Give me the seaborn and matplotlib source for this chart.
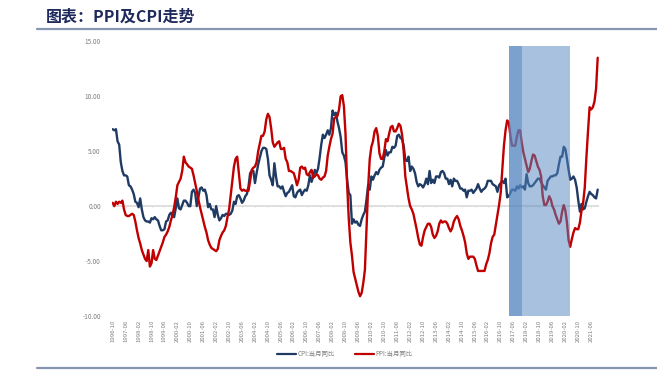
import numpy as np
import pandas as pd
import matplotlib
matplotlib.use("Agg")
import matplotlib.pyplot as plt
from matplotlib.lines import Line2D
import seaborn as sns

# ---------------- data (monthly, 1996-10 .. 2021-10) ----------------
start_month = "1996-10"
cpi_1996 = [7.0, 6.9, 7.0]
cpi_1997 = [5.9, 5.6, 4.0, 3.2, 2.8, 2.8, 2.7, 1.9, 1.8, 1.5, 1.1, 0.4]
cpi_1998 = [0.3, -0.1, 0.7, -0.3, -1.0, -1.3, -1.4, -1.4, -1.5, -1.1, -1.2, -1.0]
cpi_1999 = [-1.2, -1.3, -1.8, -2.2, -2.2, -2.1, -1.4, -1.3, -0.8, -0.6, -0.9, -1.0]
cpi_2000 = [-0.2, 0.7, -0.2, -0.3, 0.1, 0.5, 0.5, 0.3, 0.0, 0.0, 1.3, 1.5]
cpi_2001 = [1.2, 0.0, 0.8, 1.6, 1.7, 1.4, 1.5, 1.0, -0.1, 0.2, -0.3, -0.3]
cpi_2002 = [-1.0, 0.0, -0.8, -1.3, -1.1, -0.8, -0.9, -0.7, -0.7, -0.8, -0.7, -0.4]
cpi_2003 = [0.4, 0.2, 0.9, 1.0, 0.7, 0.3, 0.5, 0.9, 1.1, 1.8, 3.0, 3.2]
cpi_2004 = [3.2, 2.1, 3.0, 3.8, 4.4, 5.0, 5.3, 5.3, 5.2, 4.3, 2.8, 2.4]
cpi_2005 = [1.9, 3.9, 2.7, 1.8, 1.8, 1.6, 1.8, 1.3, 0.9, 1.2, 1.3, 1.6]
cpi_2006 = [1.9, 0.9, 0.8, 1.2, 1.4, 1.5, 1.0, 1.3, 1.5, 1.4, 1.9, 2.8]
cpi_2007 = [2.2, 2.7, 3.3, 3.0, 3.4, 4.4, 5.6, 6.5, 6.2, 6.5, 6.9, 6.5]
cpi_2008 = [7.1, 8.7, 8.3, 8.5, 7.7, 7.1, 6.3, 4.9, 4.6, 4.0, 2.4, 1.2]
cpi_2009 = [1.0, -1.6, -1.2, -1.5, -1.4, -1.7, -1.8, -1.2, -0.8, -0.5, 0.6, 1.9]
cpi_2010 = [1.5, 2.7, 2.4, 2.8, 3.1, 2.9, 3.3, 3.5, 3.6, 4.4, 5.1, 4.6]
cpi_2011 = [4.9, 4.9, 5.4, 5.3, 5.5, 6.4, 6.5, 6.2, 6.1, 5.5, 4.2, 4.1]
cpi_2012 = [4.5, 3.2, 3.6, 3.4, 3.0, 2.2, 1.8, 2.0, 1.9, 1.7, 2.0, 2.5]
cpi_2013 = [2.0, 3.2, 2.1, 2.4, 2.1, 2.7, 2.7, 2.6, 3.1, 3.2, 3.0, 2.5]
cpi_2014 = [2.5, 2.0, 2.4, 1.8, 2.5, 2.3, 2.3, 2.0, 1.6, 1.6, 1.4, 1.5]
cpi_2015 = [0.8, 1.4, 1.4, 1.5, 1.2, 1.4, 1.6, 2.0, 1.6, 1.3, 1.5, 1.6]
cpi_2016 = [1.8, 2.3, 2.3, 2.3, 2.0, 1.9, 1.8, 1.3, 1.9, 2.1, 2.3, 2.1]
cpi_2017 = [2.5, 0.8, 0.9, 1.2, 1.5, 1.5, 1.4, 1.8, 1.6, 1.9, 1.7, 1.8]
cpi_2018 = [1.5, 2.9, 2.1, 1.8, 1.8, 1.9, 2.1, 2.3, 2.5, 2.5, 2.2, 1.9]
cpi_2019 = [1.7, 1.5, 2.3, 2.5, 2.7, 2.7, 2.8, 2.8, 3.0, 3.8, 4.5, 4.5]
cpi_2020 = [5.4, 5.2, 4.3, 3.3, 2.4, 2.5, 2.7, 2.4, 1.7, 0.5, -0.5, 0.2]
cpi_2021 = [-0.3, -0.2, 0.4, 0.9, 1.3, 1.1, 1.0, 0.8, 0.7, 1.5]

ppi_1996 = [0.3, 0.0, 0.4]
ppi_1997 = [0.2, 0.4, 0.3, 0.5, -0.3, -0.8, -0.9, -0.9, -0.8, -0.7, -0.8, -1.4]
ppi_1998 = [-2.2, -2.9, -3.4, -4.0, -4.4, -4.8, -5.0, -4.0, -5.5, -5.2, -4.0, -4.8]
ppi_1999 = [-4.9, -4.5, -4.1, -3.7, -3.3, -2.8, -2.6, -2.3, -1.9, -1.3, -0.8, -0.1]
ppi_2000 = [0.8, 1.9, 2.2, 2.5, 3.2, 4.5, 4.0, 3.8, 3.6, 3.5, 3.4, 2.8]
ppi_2001 = [2.1, 1.4, 0.6, -0.1, -0.7, -1.3, -1.9, -2.4, -3.1, -3.5, -3.8, -3.9]
ppi_2002 = [-4.0, -4.1, -3.9, -3.1, -2.7, -2.4, -2.2, -1.8, -1.0, -0.3, 1.0, 2.3]
ppi_2003 = [3.6, 4.3, 4.5, 3.0, 1.6, 1.4, 1.5, 1.4, 1.4, 1.4, 2.3, 3.3]
ppi_2004 = [3.5, 3.6, 4.0, 5.0, 5.7, 6.4, 6.4, 6.8, 7.9, 8.4, 8.1, 7.1]
ppi_2005 = [5.8, 5.4, 5.6, 5.8, 5.9, 5.2, 5.2, 5.3, 4.3, 4.0, 3.2, 3.2]
ppi_2006 = [3.1, 3.0, 2.5, 1.9, 2.4, 3.5, 3.6, 3.4, 3.5, 2.9, 2.8, 3.1]
ppi_2007 = [3.3, 2.6, 2.7, 2.9, 2.8, 2.5, 2.4, 2.6, 2.7, 3.2, 4.6, 5.4]
ppi_2008 = [6.1, 6.6, 8.0, 8.1, 8.2, 8.8, 10.0, 10.1, 9.1, 6.6, 2.0, -1.1]
ppi_2009 = [-3.3, -4.5, -6.0, -6.6, -7.2, -7.8, -8.2, -7.9, -7.0, -5.8, -2.1, 1.7]
ppi_2010 = [4.3, 5.4, 5.9, 6.8, 7.1, 6.4, 4.8, 4.3, 4.3, 5.0, 6.1, 5.9]
ppi_2011 = [6.6, 7.2, 7.3, 6.8, 6.8, 7.1, 7.5, 7.3, 6.5, 5.0, 2.7, 1.7]
ppi_2012 = [0.7, 0.0, -0.3, -0.7, -1.4, -2.1, -2.9, -3.5, -3.6, -2.8, -2.2, -1.9]
ppi_2013 = [-1.6, -1.6, -1.9, -2.6, -2.9, -2.7, -2.3, -1.6, -1.3, -1.5, -1.4, -1.4]
ppi_2014 = [-1.6, -2.0, -2.3, -2.0, -1.4, -1.1, -0.9, -1.2, -1.8, -2.2, -2.7, -3.3]
ppi_2015 = [-4.3, -4.8, -4.6, -4.6, -4.6, -4.8, -5.4, -5.9, -5.9, -5.9, -5.9, -5.9]
ppi_2016 = [-5.3, -4.9, -4.3, -3.4, -2.8, -2.6, -1.7, -0.8, 0.1, 1.2, 3.3, 5.5]
ppi_2017 = [6.9, 7.8, 7.6, 6.4, 5.5, 5.5, 5.5, 6.3, 6.9, 6.9, 5.8, 4.9]
ppi_2018 = [4.3, 3.7, 3.1, 3.4, 4.1, 4.7, 4.6, 4.1, 3.6, 3.3, 2.7, 0.9]
ppi_2019 = [0.1, 0.1, 0.4, 0.9, 0.6, 0.0, -0.3, -0.8, -1.2, -1.6, -1.4, -0.5]
ppi_2020 = [0.1, -0.4, -1.5, -3.1, -3.7, -3.0, -2.4, -2.0, -2.1, -2.1, -1.5, -0.4]
ppi_2021 = [0.3, 1.7, 4.4, 6.8, 9.0, 8.8, 9.0, 9.5, 10.7, 13.5]

# shaded periods (two overlapping translucent bands)
band_starts = ["2017-03", "2017-03"]
band_ends = ["2017-11", "2020-05"]

series_names = ["CPI:当月同比", "PPI:当月同比"]
series_colors = ["#1F3B63", "#C00000"]
title_text = "图表：PPI及CPI走势"
y_ticks = [-10, -5, 0, 5, 10, 15]

# ---------------- assemble ----------------
cpi = sum([cpi_1996, cpi_1997, cpi_1998, cpi_1999, cpi_2000, cpi_2001, cpi_2002,
           cpi_2003, cpi_2004, cpi_2005, cpi_2006, cpi_2007, cpi_2008, cpi_2009,
           cpi_2010, cpi_2011, cpi_2012, cpi_2013, cpi_2014, cpi_2015, cpi_2016,
           cpi_2017, cpi_2018, cpi_2019, cpi_2020, cpi_2021], [])
ppi = sum([ppi_1996, ppi_1997, ppi_1998, ppi_1999, ppi_2000, ppi_2001, ppi_2002,
           ppi_2003, ppi_2004, ppi_2005, ppi_2006, ppi_2007, ppi_2008, ppi_2009,
           ppi_2010, ppi_2011, ppi_2012, ppi_2013, ppi_2014, ppi_2015, ppi_2016,
           ppi_2017, ppi_2018, ppi_2019, ppi_2020, ppi_2021], [])
months = pd.period_range(start=start_month, periods=len(cpi), freq="M")
labels = [m.strftime("%Y-%m") for m in months]
idx = np.arange(len(cpi))

df = pd.DataFrame({
    "i": np.concatenate([idx, idx]),
    "value": cpi + ppi,
    "series": [series_names[0]] * len(cpi) + [series_names[1]] * len(ppi),
})

sns.set_style("white")
plt.rcParams["font.family"] = ["Noto Sans CJK SC", "DejaVu Sans"]
plt.rcParams["axes.unicode_minus"] = False

W, H = 657, 371
fig = plt.figure(figsize=(W / 100, H / 100), dpi=100)
ax_left, ax_right, ax_top, ax_bot = 111.9, 598.5, 41.3, 316.0
ax = fig.add_axes([ax_left / W, 1 - ax_bot / H, (ax_right - ax_left) / W, (ax_bot - ax_top) / H])

ax.axhline(0, color="#D9D9D9", lw=1.2, zorder=1)
sns.lineplot(data=df, x="i", y="value", hue="series", hue_order=series_names,
             palette=dict(zip(series_names, series_colors)), linewidth=1.7,
             legend=False, ax=ax, zorder=3)
for ln in ax.get_lines():
    ln.set_solid_joinstyle("round")
    ln.set_solid_capstyle("round")

# bands
band_top = (14.6 + 10) / 25
for s, e in zip(band_starts, band_ends):
    ax.axvspan(labels.index(s), labels.index(e), ymin=0, ymax=band_top,
               color="#5185C1", alpha=0.5, lw=0, zorder=4)

ax.set_xlim(-0.5, len(cpi) - 0.5)
ax.set_ylim(-10, 15)
ax.set_yticks(y_ticks)
ax.set_yticklabels([f"{v:.2f}" for v in y_ticks])
tick_pos = list(range(0, len(cpi), 8))
ax.set_xticks(tick_pos)
ax.set_xticklabels([labels[p] for p in tick_pos], rotation=90)
ax.tick_params(axis="both", length=0, labelsize=4.6, labelcolor="#7F7F7F")
ax.tick_params(axis="x", pad=3, labelsize=4.3)
ax.tick_params(axis="y", pad=8)
ax.set_xlabel("")
ax.set_ylabel("")
for sp in ax.spines.values():
    sp.set_visible(False)

# tick marks along the zero line
sec = ax.secondary_xaxis(10 / 25)
sec.set_xticks(tick_pos)
sec.set_xticklabels([])
sec.tick_params(length=1.5, width=0.5, color="#E3E3E3", direction="out")
sec.spines["bottom"].set_visible(False)

# legend
handles = [Line2D([0], [0], color=c, lw=1.6) for c in series_colors]
leg = fig.legend(handles, series_names, loc="center", ncol=2,
                 bbox_to_anchor=(345 / W, 1 - 354 / H), frameon=False,
                 fontsize=4.6, handlelength=2.9, handletextpad=0.3,
                 columnspacing=3.2)
for t in leg.get_texts():
    t.set_color("#7F7F7F")

# title and rules
fig.text(46 / W, 1 - 17 / H, title_text, fontsize=11.5, fontweight="bold",
         color="#1F2A5C", va="center", ha="left")
fig.add_artist(Line2D([37 / W, 1], [1 - 29 / H] * 2, color="#8496B0", lw=1.6))
fig.add_artist(Line2D([37 / W, 1], [1 - 367.5 / H] * 2, color="#8496B0", lw=1.6))

fig.savefig("out.png", dpi=100)
